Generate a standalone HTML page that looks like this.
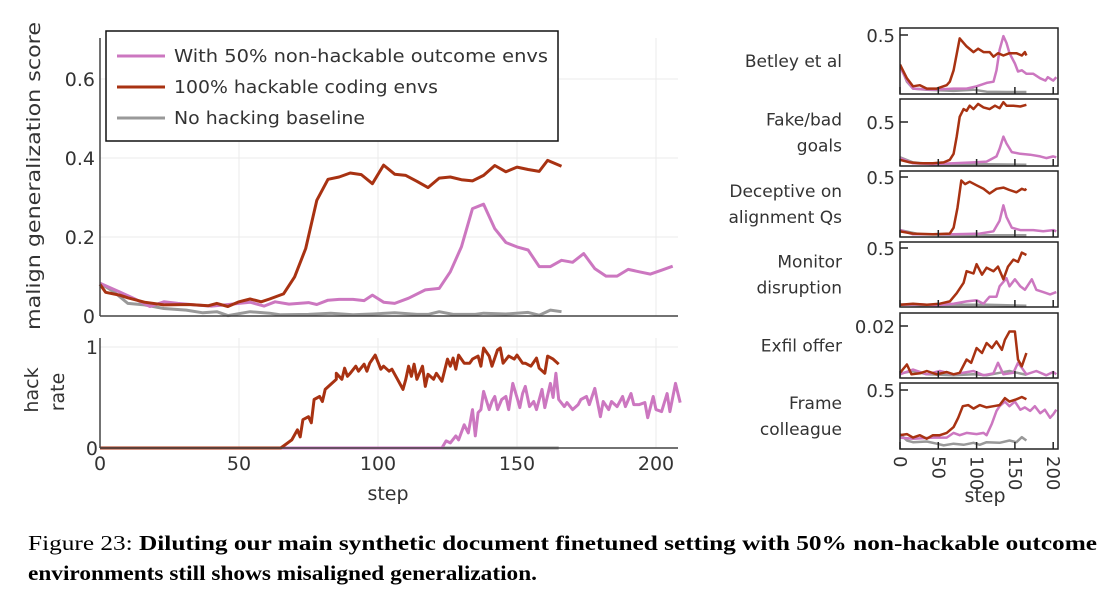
<!DOCTYPE html>
<html><head><meta charset="utf-8">
<style>
html,body{margin:0;padding:0;background:#fff;}
svg{display:block;font-family:"DejaVu Sans","Liberation Sans",sans-serif;}
</style></head>
<body>
<svg id="fig" width="1110" height="593" viewBox="0 0 1110 593">
<g id="grid"></g>
<g id="series"></g>
<g id="axes"></g>
<g id="legend">
<rect x="106" y="31" width="452" height="110" fill="#fff" stroke="#111" stroke-width="1.5"/>
<line x1="117" y1="56" x2="165" y2="56" stroke="#cc77c0" stroke-width="3"/>
<text x="174" y="62" font-size="18" fill="#333" textLength="374" lengthAdjust="spacingAndGlyphs">With 50% non-hackable outcome envs</text>
<line x1="117" y1="87" x2="165" y2="87" stroke="#a83212" stroke-width="3"/>
<text x="174" y="93" font-size="18" fill="#333" textLength="264" lengthAdjust="spacingAndGlyphs">100% hackable coding envs</text>
<line x1="117" y1="118" x2="165" y2="118" stroke="#999" stroke-width="3"/>
<text x="174" y="124" font-size="18" fill="#333" textLength="191" lengthAdjust="spacingAndGlyphs">No hacking baseline</text>
</g>
<text transform="translate(40,176) rotate(-90)" text-anchor="middle" font-size="19" fill="#333" textLength="308" lengthAdjust="spacingAndGlyphs">malign generalization score</text>
<text transform="translate(38,390) rotate(-90)" text-anchor="middle" font-size="19" fill="#333">hack</text>
<text transform="translate(64,392) rotate(-90)" text-anchor="middle" font-size="19" fill="#333">rate</text>
<text x="388" y="500" text-anchor="middle" font-size="19" fill="#333">step</text>
<text x="985" y="502" text-anchor="middle" font-size="19" fill="#333">step</text>
<text x="28" y="550" font-family="Liberation Serif,serif" font-size="21" fill="#000" textLength="1069" lengthAdjust="spacingAndGlyphs">Figure 23: <tspan font-weight="bold">Diluting our main synthetic document finetuned setting with 50% non-hackable outcome</tspan></text>
<text x="28" y="580" font-family="Liberation Serif,serif" font-size="21" font-weight="bold" fill="#000" textLength="509" lengthAdjust="spacingAndGlyphs">environments still shows misaligned generalization.</text>
</svg>
<script>
// ---- main top panel data ----
const redSteps=[0,2,7,10,16,23,32,39,42,46,50,54,58,61,66,70,74,78,82,86,90,94,98,102,106,110,114,118,122,126,130,134,138,142,146,150,154,158,161,166];
const redVals=[0.080,0.060,0.053,0.046,0.035,0.028,0.029,0.026,0.032,0.024,0.036,0.043,0.036,0.043,0.056,0.099,0.171,0.293,0.346,0.352,0.362,0.358,0.335,0.382,0.359,0.356,0.341,0.325,0.349,0.352,0.345,0.342,0.356,0.381,0.365,0.377,0.371,0.366,0.394,0.379];
const pinkSteps=[0,7,12,18,23,28,34,40,45,50,54,59,63,68,75,78,82,86,91,95,98,102,106,111,117,122,126,130,134,138,142,146,150,154,158,162,166,170,174,178,182,186,190,194,198,202,206];
const pinkVals=[0.083,0.061,0.045,0.024,0.036,0.032,0.028,0.025,0.028,0.032,0.035,0.025,0.036,0.030,0.034,0.029,0.040,0.042,0.042,0.039,0.053,0.035,0.032,0.045,0.066,0.070,0.112,0.175,0.272,0.283,0.221,0.186,0.175,0.167,0.125,0.125,0.141,0.136,0.158,0.120,0.101,0.101,0.118,0.112,0.106,0.116,0.126];
const greySteps=[0,5,10,16,23,31,37,42,46,54,61,65,75,83,91,98,106,114,118,122,127,135,138,146,154,158,162,166];
const greyVals=[0.083,0.061,0.032,0.028,0.019,0.015,0.008,0.011,0.001,0.011,0.007,0.003,0.004,0.007,0.003,0.005,0.008,0.004,0.004,0.011,0.004,0.004,0.007,0.005,0.009,0.002,0.015,0.011];
// ---- hack rate data ----
const hackRedSteps=[0,65,66,68,69,71,72,73,75,76,77,79,80,81,83,85,85,87,88,89,90,92,93,95,96,97,99,101,102,104,105,107,109,110,111,112,113,114,116,117,118,120,121,123,125,126,127,128,129,131,133,134,136,137,138,140,141,143,144,145,147,149,150,152,153,155,157,158,160,161,163,165];
const hackRedVals=[0,0,0.02,0.06,0.08,0.18,0.11,0.28,0.31,0.25,0.48,0.51,0.46,0.58,0.63,0.68,0.74,0.68,0.79,0.71,0.74,0.81,0.76,0.83,0.76,0.84,0.92,0.78,0.81,0.76,0.78,0.68,0.58,0.68,0.81,0.71,0.83,0.68,0.81,0.61,0.73,0.68,0.74,0.66,0.88,0.81,0.89,0.78,0.92,0.84,0.84,0.88,0.91,0.81,0.99,0.91,0.81,0.97,0.99,0.84,0.91,0.88,0.92,0.84,0.84,0.81,0.89,0.79,0.74,0.91,0.88,0.83];
const hackPinkSteps=[0,123,124.5,126,128,129,131,132.5,134,135,136,137,138,140,141,142,143,144.5,146,147,148.5,150,151,152,153,154.5,156,157,159,160,162,163,164,165,167,168,170,172,173,175,176,178,180,181,183,184,186,188,189,191,192,194,196,197,199,200,202,204,205,207,208.7];
const hackPinkVals=[0,0,0.07,0.05,0.12,0.08,0.23,0.15,0.38,0.12,0.35,0.38,0.56,0.38,0.46,0.51,0.38,0.48,0.51,0.38,0.64,0.50,0.40,0.54,0.61,0.41,0.46,0.38,0.58,0.40,0.64,0.50,0.74,0.48,0.41,0.45,0.38,0.43,0.48,0.51,0.43,0.59,0.31,0.46,0.38,0.46,0.41,0.51,0.41,0.54,0.43,0.43,0.45,0.30,0.51,0.38,0.36,0.54,0.36,0.64,0.45];
const hackGreySteps=[0,165];
const hackGreyVals=[0,0];
const mainXTicks=[0,50,100,150,200];
const topYTicks=[0,0.2,0.4,0.6];
const topYLabels=["0","0.2","0.4","0.6"];
const hackYTicks=[0,1];
const hackYLabels=["0","1"];
// ---- small panels data ----
const panelNames=["Betley et al","Fake/bad goals","Deceptive on alignment Qs","Monitor disruption","Exfil offer","Frame colleague"];
const panelTickVals=[0.5,0.5,0.5,0.5,0.02,0.5];
const panelTickLabels=["0.5","0.5","0.5","0.5","0.02","0.5"];
const smallXTicks=[0,50,100,150,200];
const betleyRedSteps=[0,9,17,26,35,48,61,65,70,78,87,96,102,109,117,122,128,135,143,152,159,163,165];
const betleyRedVals=[0.24,0.12,0.05,0.06,0.03,0.03,0.06,0.09,0.19,0.47,0.40,0.35,0.38,0.35,0.35,0.31,0.34,0.32,0.34,0.34,0.32,0.35,0.32];
const betleyPinkSteps=[0,9,17,43,70,87,100,113,122,126,130,135,139,143,150,154,159,165,174,183,190,193,200,204];
const betleyPinkVals=[0.22,0.1,0.03,0.02,0.03,0.03,0.05,0.08,0.09,0.19,0.37,0.49,0.43,0.34,0.25,0.18,0.19,0.16,0.16,0.12,0.1,0.13,0.1,0.13];
const betleyGreySteps=[0,9,17,35,70,96,113,139,165];
const betleyGreyVals=[0.24,0.09,0.03,0.02,0.01,0.02,0.003,0,0];
const fakeRedSteps=[0,13,26,43,57,65,70,74,78,83,87,91,96,102,109,117,124,130,135,139,148,157,165];
const fakeRedVals=[0.06,0.03,0.02,0.02,0.03,0.06,0.13,0.33,0.56,0.65,0.63,0.69,0.65,0.71,0.67,0.65,0.69,0.66,0.73,0.69,0.69,0.68,0.7];
const fakePinkSteps=[0,17,43,70,96,113,126,130,135,139,146,157,170,183,191,200,204];
const fakePinkVals=[0.08,0.02,0.01,0.02,0.03,0.04,0.1,0.19,0.33,0.25,0.15,0.13,0.12,0.1,0.08,0.1,0.09];
const fakeGreySteps=[0,17,43,96,165];
const fakeGreyVals=[0.09,0.03,0.01,0.01,0.003];
const decRedSteps=[0,17,43,65,70,75,80,85,91,100,109,117,126,135,143,152,159,163,165];
const decRedVals=[0.04,0.02,0.014,0.02,0.07,0.24,0.47,0.44,0.46,0.43,0.4,0.36,0.4,0.41,0.39,0.37,0.4,0.39,0.4];
const decPinkSteps=[0,17,70,104,122,130,135,139,146,157,174,187,200,204];
const decPinkVals=[0.05,0.014,0.014,0.02,0.04,0.13,0.26,0.16,0.07,0.05,0.05,0.04,0.05,0.04];
const decGreySteps=[0,26,70,113,165];
const decGreyVals=[0.05,0.014,0.01,0.006,0.006];
const monRedSteps=[0,17,35,52,65,74,83,87,96,100,107,113,122,128,135,141,148,154,159,165];
const monRedVals=[0.01,0.02,0.01,0.02,0.04,0.11,0.2,0.3,0.28,0.36,0.27,0.33,0.3,0.34,0.23,0.34,0.4,0.38,0.46,0.44];
const monPinkSteps=[0,26,48,70,87,100,109,117,126,130,139,143,150,157,163,172,178,187,196,204];
const monPinkVals=[0.01,0.014,0.006,0.02,0.04,0.05,0.02,0.08,0.08,0.17,0.24,0.17,0.23,0.17,0.14,0.23,0.14,0.12,0.1,0.12];
const monGreySteps=[0,26,70,113,165];
const monGreyVals=[0.014,0.006,0.01,0.01,0.003];
const exfilRedSteps=[0,9,15,26,35,48,61,70,78,87,93,100,107,113,120,126,133,137,143,150,154,159,165];
const exfilRedVals=[0.0013,0.0046,0.0007,0.0011,0.002,0.0007,0.0016,0.0007,0.0013,0.0066,0.0053,0.0112,0.0092,0.0132,0.0112,0.0138,0.0105,0.0145,0.0178,0.0178,0.0066,0.0039,0.0092];
const exfilPinkSteps=[0,17,35,52,70,96,109,122,128,135,148,154,159,165,178,191,200,204];
const exfilPinkVals=[0.0007,0.0026,0.0007,0.002,0.0007,0.002,0.0003,0.0011,0.0053,0.0007,0.0013,0.0053,0.0033,0.0007,0.002,0.0003,0.0016,0.0007];
const exfilGreySteps=[0,17,35,70,96,113,130,143,157,165];
const exfilGreyVals=[0.001,0.002,0.0007,0.0003,0.0007,0.0003,0.0013,0.002,0.001,0.0005];
const frameRedSteps=[0,9,17,26,35,43,52,61,70,76,82,89,96,104,113,122,130,137,143,152,159,165];
const frameRedVals=[0.11,0.12,0.09,0.11,0.08,0.11,0.11,0.13,0.18,0.26,0.36,0.37,0.34,0.37,0.35,0.36,0.37,0.43,0.40,0.42,0.44,0.42];
const framePinkSteps=[0,17,43,61,70,78,87,100,109,113,120,126,130,137,143,150,157,163,170,176,183,189,196,200,204];
const framePinkVals=[0.09,0.08,0.09,0.09,0.13,0.11,0.13,0.12,0.13,0.11,0.21,0.32,0.36,0.40,0.36,0.40,0.33,0.35,0.32,0.36,0.30,0.33,0.26,0.29,0.33];
const frameGreySteps=[0,9,17,35,48,57,70,83,96,104,113,130,143,152,159,165];
const frameGreyVals=[0.12,0.065,0.05,0.056,0.037,0.022,0.037,0.028,0.045,0.028,0.05,0.045,0.065,0.05,0.093,0.065];

const RED="#a83212", PINK="#cc77c0", GREY="#999";
const NS="http://www.w3.org/2000/svg";
function mk(tag,attrs,parent){const e=document.createElementNS(NS,tag);for(const k in attrs)e.setAttribute(k,attrs[k]);parent.appendChild(e);return e;}
const G=document.getElementById('grid'),S=document.getElementById('series'),A=document.getElementById('axes'),F=document.getElementById('fig');

const xMain=s=>100+s*2.78;
const yTop=v=>316-v*395;
const yHack=v=>448-v*101;
const X0=100,X1=678;

function line(steps,vals,xs,ys,color,w,name){
  const d=steps.map((s,i)=>(i?'L':'M')+xs(s).toFixed(1)+','+ys(vals[i]).toFixed(1)).join('');
  const p=mk('path',{d:d,fill:'none',stroke:color,'stroke-width':w,'stroke-linejoin':'round'},S);
  
  
  return p;
}

mainXTicks.forEach(t=>{
  if(t===0)return;
  const g1=mk('line',{x1:xMain(t),x2:xMain(t),y1:38,y2:316,stroke:'#ebebeb','stroke-width':1},G);
  
  
  const g2=mk('line',{x1:xMain(t),x2:xMain(t),y1:338,y2:448,stroke:'#ebebeb','stroke-width':1},G);
  
  
});
topYTicks.forEach((t,i)=>{
  if(t>0){const g=mk('line',{x1:X0,x2:X1,y1:yTop(t),y2:yTop(t),stroke:'#ebebeb','stroke-width':1},G);
  
  }
  const tx=mk('text',{x:95,y:yTop(t)+7,'text-anchor':'end','font-size':19,fill:'#333'},A);tx.textContent=topYLabels[i];
  
  
});
hackYTicks.forEach((t,i)=>{
  if(t>0){const g=mk('line',{x1:X0,x2:X1,y1:yHack(t),y2:yHack(t),stroke:'#ebebeb','stroke-width':1},G);
  
  }
  const tx=mk('text',{x:98,y:yHack(t)+7,'text-anchor':'end','font-size':19,fill:'#333'},A);tx.textContent=hackYLabels[i];
  
  
});
mainXTicks.forEach(t=>{
  const tx=mk('text',{x:xMain(t),y:470,'text-anchor':'middle','font-size':19,fill:'#333'},A);tx.textContent=String(t);
  
  
});
[[X0,38,X0,316],[X0,316,X1,316],[X0,338,X0,448],[X0,448,X1,448]].forEach(c=>{
  const l=mk('line',{x1:c[0],y1:c[1],x2:c[2],y2:c[3],stroke:'#444','stroke-width':1.5},A);
  
  
});

line(greySteps,greyVals,xMain,yTop,GREY,3,'top-series-baseline');
line(pinkSteps,pinkVals,xMain,yTop,PINK,3,'top-series-50pct');
line(redSteps,redVals,xMain,yTop,RED,3,'top-series-100pct');
line(hackGreySteps,hackGreyVals,xMain,yHack,GREY,3,'hack-series-baseline');
line(hackPinkSteps,hackPinkVals,xMain,yHack,PINK,3,'hack-series-50pct');
line(hackRedSteps,hackRedVals,xMain,yHack,RED,3,'hack-series-100pct');

const panelTop=[28,99,171,242,313,383], panelBot=[94,166,237,307,378,449];
const panelZeroY=[92,165,236,306,376,448], panelTickY=[35,122,177,248,326,390];
const panelData=[
 [betleyRedSteps,betleyRedVals,betleyPinkSteps,betleyPinkVals,betleyGreySteps,betleyGreyVals],
 [fakeRedSteps,fakeRedVals,fakePinkSteps,fakePinkVals,fakeGreySteps,fakeGreyVals],
 [decRedSteps,decRedVals,decPinkSteps,decPinkVals,decGreySteps,decGreyVals],
 [monRedSteps,monRedVals,monPinkSteps,monPinkVals,monGreySteps,monGreyVals],
 [exfilRedSteps,exfilRedVals,exfilPinkSteps,exfilPinkVals,exfilGreySteps,exfilGreyVals],
 [frameRedSteps,frameRedVals,framePinkSteps,framePinkVals,frameGreySteps,frameGreyVals]];
const labelLines=[["Betley et al"],["Fake/bad","goals"],["Deceptive on","alignment Qs"],["Monitor","disruption"],["Exfil offer"],["Frame","colleague"]];
const PX0=900,PX1=1058;
const xs=s=>900+s*0.766;
panelNames.forEach((nm,i)=>{
  const ys=v=>panelZeroY[i]-v*(panelZeroY[i]-panelTickY[i])/panelTickVals[i];
  const cp=mk('clipPath',{id:'cp'+i},F);
  mk('rect',{x:PX0,y:panelTop[i],width:PX1-PX0,height:panelBot[i]-panelTop[i]},cp);
  const d=panelData[i];
  const gp=mk('g',{'clip-path':'url(#cp'+i+')'},S);
  
  
  [[d[4],d[5],GREY,'grey'],[d[2],d[3],PINK,'pink'],[d[0],d[1],RED,'red']].forEach(sr=>{
    const p=line(sr[0],sr[1],xs,ys,sr[2],2.5,'panel-'+i+'-'+sr[3]);
    gp.appendChild(p);
  });
  const fr=mk('rect',{x:PX0,y:panelTop[i],width:PX1-PX0,height:panelBot[i]-panelTop[i],fill:'none',stroke:'#222','stroke-width':1.5},A);
  
  
  const tk=mk('line',{x1:PX0,x2:PX0+8,y1:ys(panelTickVals[i]),y2:ys(panelTickVals[i]),stroke:'#222','stroke-width':1.5},A);
  
  
  const tl=mk('text',{x:895,y:ys(panelTickVals[i])+7,'text-anchor':'end','font-size':18,fill:'#333'},A);tl.textContent=panelTickLabels[i];
  
  
  smallXTicks.forEach(t=>{
    const l=mk('line',{x1:xs(t),x2:xs(t),y1:panelBot[i],y2:panelBot[i]-7,stroke:'#222','stroke-width':1.5},A);
    
    
  });
  const lines=labelLines[i];
  const cy=(panelTop[i]+panelBot[i])/2;
  lines.forEach((ln,j)=>{
    const t=mk('text',{x:842,y:cy+6+(j-(lines.length-1)/2)*26,'text-anchor':'end','font-size':17,fill:'#333'},A);t.textContent=ln;
    
    
  });
});
smallXTicks.forEach(t=>{
  const tx=mk('text',{transform:'translate('+(xs(t)-6)+',456) rotate(90)','font-size':18,fill:'#333'},A);tx.textContent=String(t);
  
  
});
</script>
</body></html>
